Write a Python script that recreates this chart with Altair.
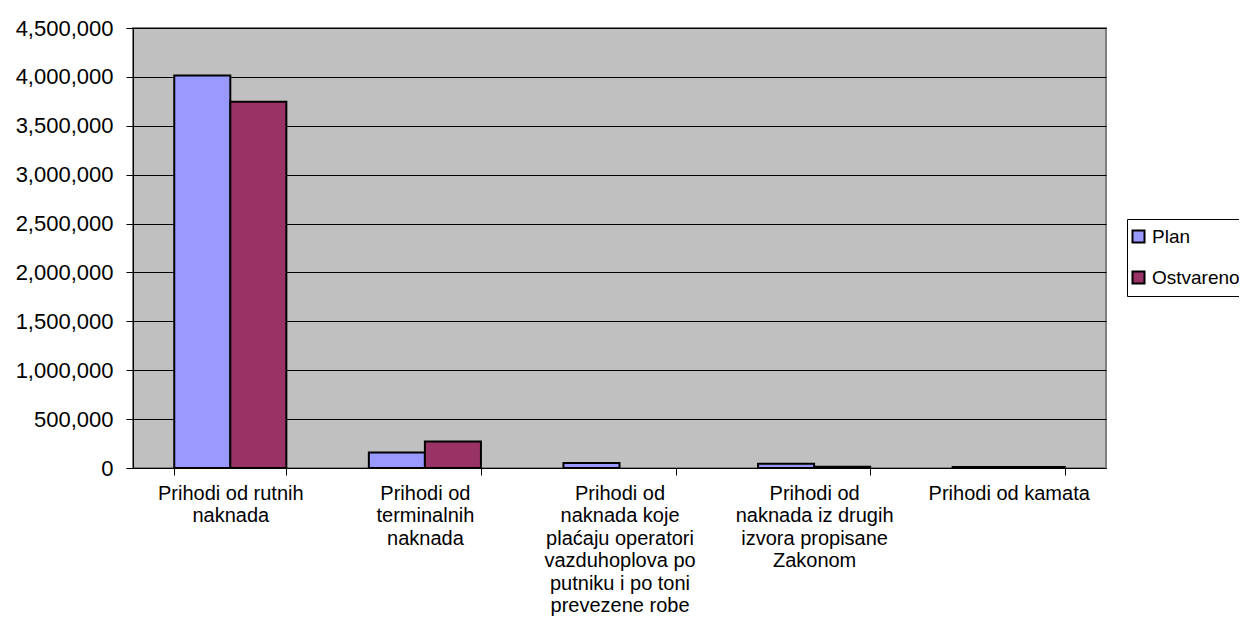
import altair as alt
import pandas as pd

categories = [
    "Prihodi od rutnih|naknada",
    "Prihodi od|terminalnih|naknada",
    "Prihodi od|naknada koje|plaćaju operatori|vazduhoplova po|putniku i po toni|prevezene robe",
    "Prihodi od|naknada iz drugih|izvora propisane|Zakonom",
    "Prihodi od kamata",
]
series = ["Plan", "Ostvareno"]
plan = [4015000, 159000, 50000, 44000, 10000]
ostvareno = [3747000, 272000, None, 12000, 10000]
colors = ["#9999FF", "#993366"]
y_ticks = [0, 500000, 1000000, 1500000, 2000000, 2500000, 3000000, 3500000, 4000000, 4500000]

rows = []
for i, c in enumerate(categories):
    rows.append({"cat": c, "series": "Plan", "value": plan[i]})
    rows.append({"cat": c, "series": "Ostvareno", "value": ostvareno[i]})
df = pd.DataFrame(rows)

FONT = "Liberation Sans"

chart = alt.Chart(df).mark_bar(stroke="black", strokeWidth=2).encode(
    x=alt.X(
        "cat:N",
        sort=categories,
        title=None,
        scale=alt.Scale(paddingInner=0.424, paddingOuter=0.212),
        axis=alt.Axis(
            labelExpr="datum.value ? split(datum.value, '|') : ''",
            labelAngle=0,
            labelFont=FONT,
            labelFontSize=20,
            labelColor="black",
            labelLineHeight=22.5,
            labelPadding=8,
            labelLimit=400,
            labelOverlap=False,
            tickBand="extent",
            tickColor="black",
            tickSize=7,
            domainColor="black",
            domainWidth=1,
            grid=False,
        ),
    ),
    xOffset=alt.XOffset("series:N", sort=series),
    y=alt.Y(
        "value:Q",
        title=None,
        scale=alt.Scale(domain=[0, 4500000], nice=False),
        axis=alt.Axis(
            values=y_ticks,
            format=",d",
            labelFont=FONT,
            labelFontSize=22,
            labelColor="black",
            labelPadding=13,
            tickColor="black",
            tickSize=7,
            domainColor="black",
            gridColor="black",
            gridWidth=1,
            gridOpacity=1,
        ),
    ),
    color=alt.Color(
        "series:N",
        sort=series,
        scale=alt.Scale(domain=series, range=colors),
        legend=alt.Legend(
            title=None,
            orient="none",
            legendX=994,
            legendY=191,
            direction="vertical",
            padding=8,
            strokeColor="black",
            fillColor="white",
            symbolType="square",
            symbolSize=144,
            symbolOffset=-6,
            symbolStrokeColor="black",
            symbolStrokeWidth=2,
            symbolOpacity=1,
            labelFont=FONT,
            labelFontSize=19,
            labelColor="black",
            labelOffset=4,
            rowPadding=20,
        ),
    ),
).properties(
    width=973,
    height=440,
    autosize=alt.AutoSizeParams(type="none"),
    padding={"left": 125, "top": 20, "right": 133, "bottom": 156},
    background="white",
).configure_view(
    fill="#C0C0C0",
    stroke="#808080",
    strokeWidth=2,
)

chart.save("out.html", embed_options={"renderer": "svg", "actions": False})
